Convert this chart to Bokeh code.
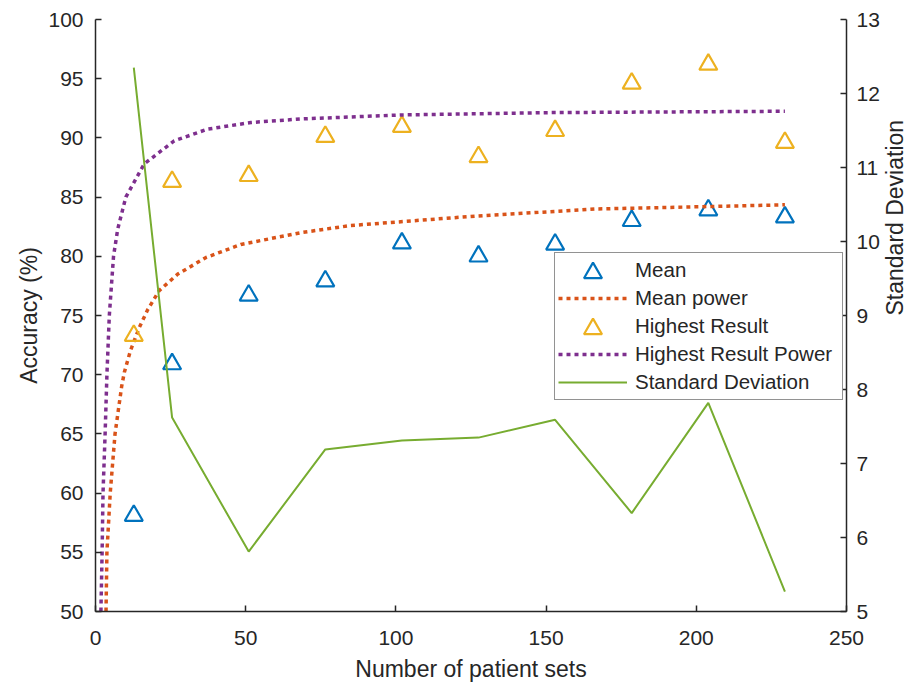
import math

from bokeh.plotting import figure
from bokeh.models import Range1d, LinearAxis, FixedTicker, Legend, LegendItem
from bokeh.embed import file_html
from bokeh.resources import INLINE

# Measured results per number of patient sets
patient_sets = [12.75, 25.5, 51, 76.5, 102, 127.5, 153, 178.5, 204, 229.5]
mean_acc = [58.1, 70.9, 76.7, 77.9, 81.1, 80.0, 81.0, 83.0, 83.9, 83.3]
highest_acc = [73.3, 86.3, 86.8, 90.1, 90.95, 88.4, 90.6, 94.6, 96.2, 89.6]
std_dev = [12.35, 7.62, 5.81, 7.19, 7.31, 7.35, 7.59, 6.33, 7.82, 5.27]

# Power-law trend curves (sampled along the fitted curve)
mean_fit_x = [3.5, 3.8, 4.9, 6.5, 8.7, 9.6, 11.6, 14.6, 17.4, 21.2, 27.4, 36.8,
              48.4, 68.4, 85, 126.6, 167, 204, 229.5]
mean_fit_y = [50, 55, 60, 65, 69.0, 70.2, 72.0, 74.0, 75.5, 77.1, 78.5, 79.9,
              81.0, 82.0, 82.6, 83.4, 84.0, 84.2, 84.35]
high_fit_x = [1.8, 2.2, 2.5, 3.2, 3.8, 4.6, 6.0, 7.4, 10.1, 16.2, 26.2, 37.3,
              51.7, 68.4, 101.7, 153, 229.5]
high_fit_y = [50, 55, 60, 65, 70, 75, 80, 82.3, 85, 87.8, 89.75, 90.74,
              91.3, 91.6, 91.94, 92.14, 92.25]

x_ticks = [0, 50, 100, 150, 200, 250]
acc_ticks = [50, 55, 60, 65, 70, 75, 80, 85, 90, 95, 100]
sd_ticks = [5, 6, 7, 8, 9, 10, 11, 12, 13]

BLUE = "#0072BD"
ORANGE = "#D95319"
YELLOW = "#EDB120"
PURPLE = "#7E2F8E"
GREEN = "#77AC30"
FONT = "Liberation Sans"
TEXT = "#262626"

p = figure(width=924, height=684,
           x_range=Range1d(0, 250), y_range=Range1d(50, 100),
           output_backend="svg", toolbar_location=None,
           min_border_left=95, min_border_right=78,
           min_border_top=19, min_border_bottom=73)
p.extra_y_ranges = {"sd": Range1d(5, 13)}
p.xgrid.visible = False
p.ygrid.visible = False
p.outline_line_color = None
p.background_fill_color = "white"
p.border_fill_color = "white"

right_axis = LinearAxis(y_range_name="sd")
p.add_layout(right_axis, "right")

p.xaxis[0].ticker = FixedTicker(ticks=x_ticks)
p.yaxis[0].ticker = FixedTicker(ticks=acc_ticks)
right_axis.ticker = FixedTicker(ticks=sd_ticks)

p.xaxis[0].axis_label = "Number of patient sets"
p.yaxis[0].axis_label = "Accuracy (%)"
right_axis.axis_label = "Standard Deviation"
# right-hand label reads bottom to top, like the left one
if "axis_label_orientation" in right_axis.properties():
    right_axis.axis_label_orientation = math.pi / 2

for ax in [p.xaxis[0], p.yaxis[0], right_axis]:
    ax.major_tick_in = 6
    ax.major_tick_out = 0
    ax.minor_tick_line_color = None
    ax.axis_line_width = 1.5
    ax.axis_line_color = "#262626"
    ax.major_tick_line_width = 1.5
    ax.major_tick_line_color = "#262626"
    ax.major_label_text_font = FONT
    ax.major_label_text_font_size = "21px"
    ax.major_label_text_color = TEXT
    ax.axis_label_text_font = FONT
    ax.axis_label_text_font_size = "23px"
    ax.axis_label_text_font_style = "normal"
    ax.axis_label_text_color = TEXT

p.xaxis[0].major_label_standoff = 19
p.xaxis[0].axis_label_standoff = 8
p.yaxis[0].major_label_standoff = 12
p.yaxis[0].axis_label_standoff = 3
right_axis.major_label_standoff = 10
right_axis.axis_label_standoff = 12

r_mean = p.scatter(patient_sets, mean_acc, marker="triangle", size=18,
                   fill_color=None, line_color=BLUE, line_width=2.2)
r_mean_fit = p.line(mean_fit_x, mean_fit_y, line_color=ORANGE, line_width=3.5,
                    line_dash="4 4")
r_high = p.scatter(patient_sets, highest_acc, marker="triangle", size=18,
                   fill_color=None, line_color=YELLOW, line_width=2.2)
r_high_fit = p.line(high_fit_x, high_fit_y, line_color=PURPLE, line_width=3.5,
                    line_dash="4 4")
r_sd = p.line(patient_sets, std_dev, y_range_name="sd", line_color=GREEN,
              line_width=2)

# Main legend box: labels, line samples and the frame
legend = Legend(items=[
    LegendItem(label="Mean", renderers=[]),
    LegendItem(label="Mean power", renderers=[r_mean_fit]),
    LegendItem(label="Highest Result", renderers=[]),
    LegendItem(label="Highest Result Power", renderers=[r_high_fit]),
    LegendItem(label="Standard Deviation", renderers=[r_sd]),
], location=(459, 211))
legend.label_text_font = FONT
legend.label_text_font_size = "20.5px"
legend.label_text_color = TEXT
legend.glyph_width = 69
legend.glyph_height = 28
legend.label_height = 28
legend.label_width = 204
legend.label_standoff = 8
legend.spacing = 0
legend.padding = 3
legend.margin = 0
legend.border_line_color = "#262626"
legend.border_line_width = 1.5
legend.background_fill_color = "white"
legend.background_fill_alpha = 1.0
p.add_layout(legend, "center")

# Full-size triangle samples for the marker rows of the legend
marker_legend = Legend(items=[
    LegendItem(label="", renderers=[r_mean]),
    LegendItem(label="", renderers=[r_high]),
], location=(475, 260))
marker_legend.glyph_width = 45
marker_legend.glyph_height = 45
marker_legend.label_height = 45
marker_legend.label_width = 0
marker_legend.label_standoff = 0
marker_legend.spacing = 11
marker_legend.padding = 0
marker_legend.margin = 0
marker_legend.border_line_color = None
marker_legend.background_fill_alpha = 0.0
p.add_layout(marker_legend, "center")

open("out.html", "w").write(file_html(p, INLINE))
